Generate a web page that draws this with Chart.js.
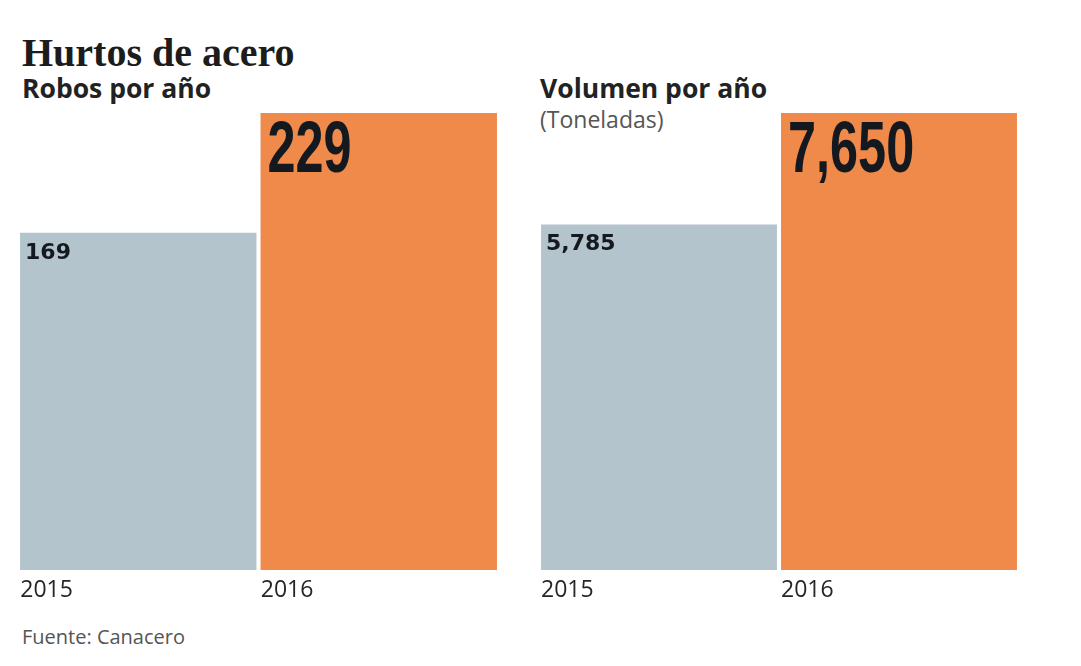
<!DOCTYPE html>
<html>
<head>
<meta charset="utf-8">
<script src="https://cdn.jsdelivr.net/npm/chart.js@4"></script>
<style>
    body { margin: 0; background: #fff; width: 1081px; height: 666px; position: relative; overflow: hidden; font-family: "Open Sans", sans-serif; }
    .txt { position: absolute; white-space: nowrap; line-height: 1; }
    #title { left: 22px; top: 29px; font: bold 40px "Liberation Serif", serif; color: #1c1c1c; }
    .sub { top: 75px; font-size: 26.5px; font-weight: bold; color: #222; }
    #unit { left: 540px; top: 108px; font-size: 23px; color: #555; }
    #source { left: 22px; top: 627px; font-size: 20px; color: #555; }
    .box { position: absolute; top: 113px; height: 487px; }
</style>
</head>
<body>
<div class="txt" id="title">Hurtos de acero</div>
<div class="txt sub" style="left:22px">Robos por año</div>
<div class="txt sub" style="left:540px">Volumen por año</div>
<div class="txt" id="unit">(Toneladas)</div>
<div class="txt" id="source">Fuente: Canacero</div>

<div class="box" style="left:18px; width:481px"><canvas id="robos"></canvas></div>
<div class="box" style="left:539px; width:480px"><canvas id="volumen"></canvas></div>

<script>
// --- Data ---
const years = ['2015', '2016'];
const robos = [169, 229];
const volumen = [5785, 7650];
const barColors = ['#b3c4cd', '#f08a4b'];

// writes the value into the top-left corner of each bar
const valueLabels = {
    id: 'valueLabels',
    afterDatasetsDraw(chart) {
        const ctx = chart.ctx;
        const meta = chart.getDatasetMeta(0);
        const values = chart.data.datasets[0].data;
        meta.data.forEach((bar, i) => {
            const left = bar.x - bar.width / 2;
            const text = values[i].toLocaleString('en-US');
            ctx.save();
            ctx.fillStyle = '#14181f';
            ctx.textBaseline = 'alphabetic';
            if (i === 0) {
                ctx.font = 'bold 22px "DejaVu Sans"';
                ctx.fillText(text, left + 5, bar.y + 26);
            } else {
                // big condensed number
                ctx.translate(left + 7, bar.y + 59);
                ctx.scale(0.7, 1);
                ctx.font = 'bold 72px "Liberation Sans"';
                ctx.fillText(text, 0, 0);
            }
            ctx.restore();
        });
    }
};

function makeChart(id, values) {
    return new Chart(document.getElementById(id), {
        type: 'bar',
        data: {
            labels: years,
            datasets: [{
                data: values,
                backgroundColor: barColors,
                borderWidth: 0,
                barPercentage: 0.983,
                categoryPercentage: 1
            }]
        },
        options: {
            responsive: true,
            maintainAspectRatio: false,
            animation: false,
            layout: { padding: 0 },
            plugins: { legend: { display: false }, tooltip: { enabled: false } },
            scales: {
                x: {
                    grid: { display: false, drawTicks: false },
                    border: { display: false },
                    ticks: {
                        align: 'start',
                        labelOffset: -118,
                        padding: 7,
                        color: '#262626',
                        font: { family: 'Open Sans', size: 23 }
                    },
                    afterFit(scale) { scale.height = 30; }
                },
                y: {
                    display: false,
                    min: 0,
                    max: Math.max(...values)
                }
            }
        },
        plugins: [valueLabels]
    });
}

makeChart('robos', robos);
makeChart('volumen', volumen);
</script>
</body>
</html>
